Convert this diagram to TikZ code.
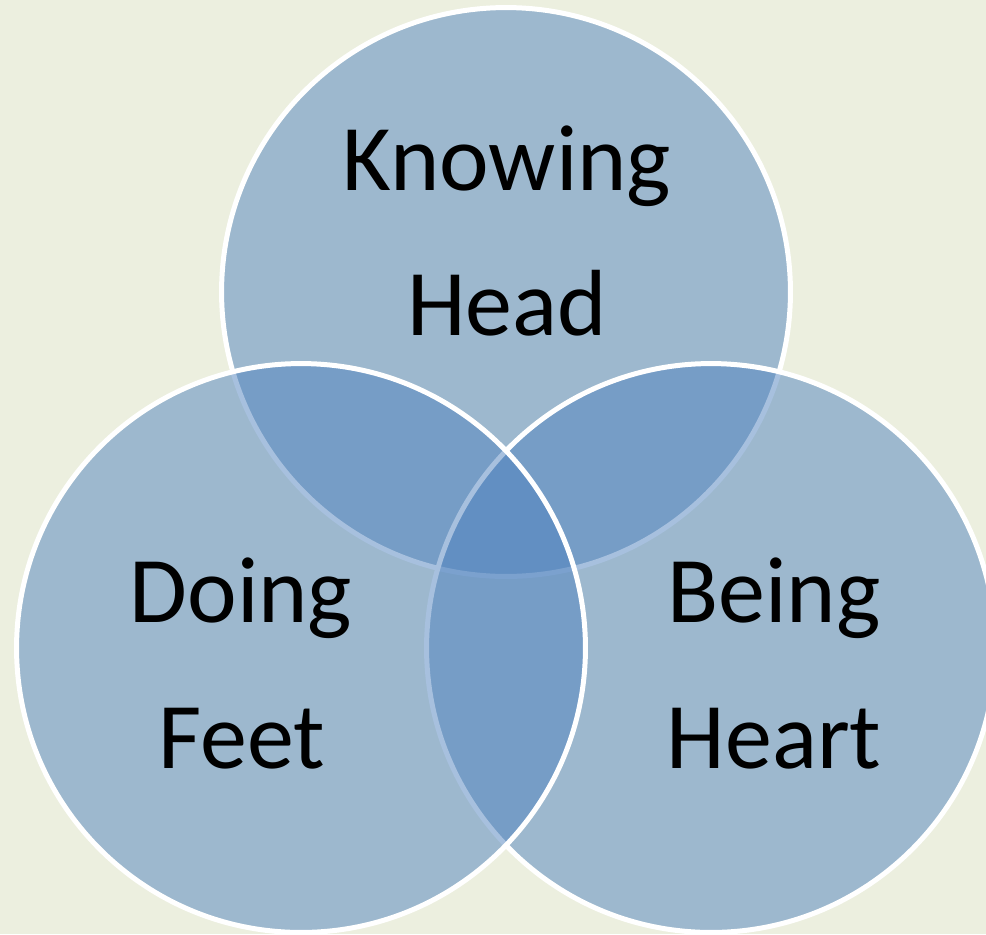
\documentclass[tikz,border=0pt]{standalone}
\usepackage{fontspec}
\setmainfont{Carlito}
\definecolor{bgcol}{RGB}{236,239,223}
\definecolor{venncol}{RGB}{80,131,191}
\begin{document}
\begin{tikzpicture}[x=0.02cm,y=-0.02cm,
  venn/.style={circle, inner sep=0pt, outer sep=0pt, minimum size=11.38cm,
    fill=venncol, fill opacity=0.5, draw=white, draw opacity=1, line width=0.1cm},
  lbl/.style={anchor=base, inner sep=0pt, text=black, font=\fontsize{53.5pt}{64pt}\selectfont}]
\useasboundingbox (0,0) rectangle (986,934);
\fill[bgcol] (0,0) rectangle (986,934);
\node[venn] (top) at (506,292) {};
\node[venn] (right) at (711,648) {};
\node[venn] (left) at (301,648) {};
\node[lbl] (k1) at (507,190) {Knowing};
\node[lbl] (k2) at (507,335) {Head};
\node[lbl] (d1) at (241,622) {Doing};
\node[lbl] (d2) at (242,768) {Feet};
\node[lbl] (b1) at (774,622) {Being};
\node[lbl] (b2) at (774,768) {Heart};
\end{tikzpicture}
\end{document}
